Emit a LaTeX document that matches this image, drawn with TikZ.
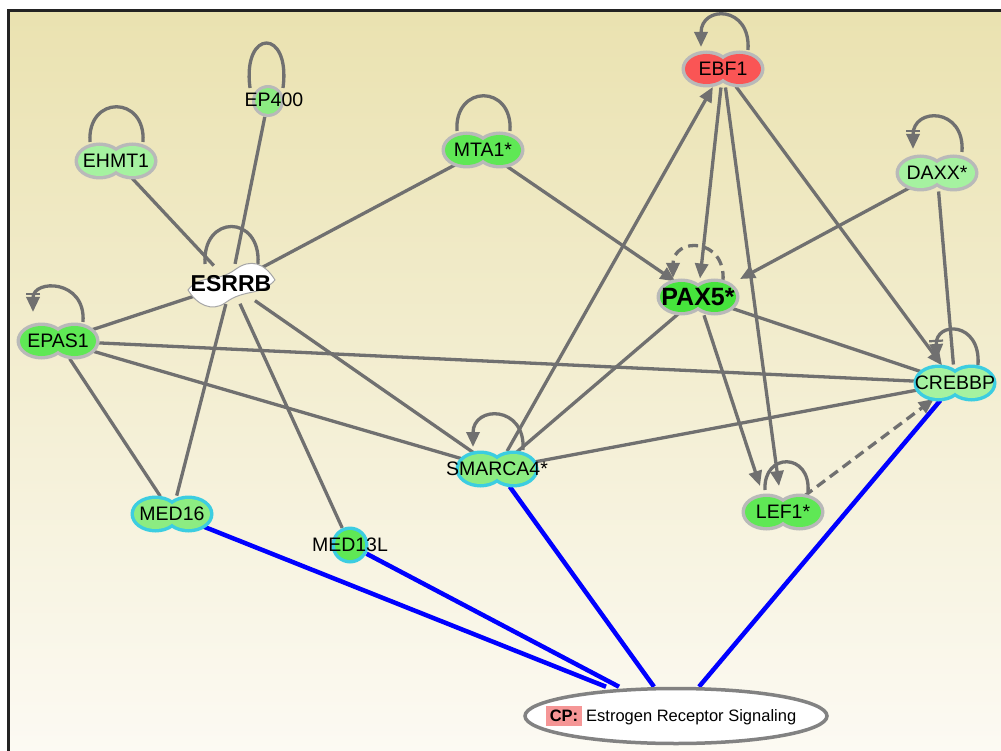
\documentclass[tikz,border=0pt]{standalone}
\usepackage{fontspec}
\setmainfont{Liberation Sans}
\usetikzlibrary{arrows.meta,shapes.geometric}
\definecolor{bgtop}{RGB}{234,226,176}
\definecolor{bgbot}{RGB}{252,250,243}
\definecolor{framec}{RGB}{35,35,35}
\definecolor{egray}{RGB}{112,112,112}
\definecolor{eblue}{RGB}{0,0,255}
\definecolor{bgray}{RGB}{185,185,185}
\definecolor{cyanb}{RGB}{60,205,225}
\definecolor{gA}{RGB}{165,242,160}
\definecolor{gB}{RGB}{140,236,130}
\definecolor{gC}{RGB}{95,232,85}
\definecolor{gD}{RGB}{70,228,60}
\definecolor{redA}{RGB}{250,85,85}
\definecolor{cppink}{RGB}{245,150,150}
\definecolor{cpgray}{RGB}{130,130,130}
\pgfdeclarelayer{bg}
\pgfdeclarelayer{edges}
\pgfsetlayers{bg,edges,main}
\newcommand\nf{\fontsize{19.5}{19.5}\selectfont}
\newcommand\bnf{\bfseries\fontsize{23}{23}\selectfont}
\newcommand\dumbbell[4]{%
  \fill[#4] ({#1-16.5},#2) ellipse[x radius=25,y radius=18.5] ({#1+16.5},#2) ellipse[x radius=25,y radius=18.5];
  \fill[#3] ({#1-16.5},#2) ellipse[x radius=21.5,y radius=15] ({#1+16.5},#2) ellipse[x radius=21.5,y radius=15];}
\newcommand\gnode[6]{\dumbbell{#2}{#3}{#4}{#5}\node[gene] (#1) at (#2,#3) {\makebox[0pt]{#6}};}
\begin{document}
\begin{tikzpicture}[x=1pt,y=-1pt,
  gene/.style={ellipse,minimum width=83pt,minimum height=37pt,inner sep=0pt,outer sep=0pt,font=\nf},
  edge/.style={draw=egray,line width=3.3pt},
  arr/.style={-{Triangle[length=15pt,width=13pt]}},
  barr/.style={-{Bar[width=14pt,line width=2.2pt,sep=2pt] Triangle[length=15pt,width=13pt]}},
  blueedge/.style={draw=eblue,line width=4.5pt},
  dashedge/.style={dash pattern=on 10pt off 6pt}]
\useasboundingbox (0,0) rectangle (1001,751);
\begin{pgfonlayer}{bg}
  \fill[white] (0,0) rectangle (1001,751);
  \shade[top color=bgtop,bottom color=bgbot] (8,10) rectangle (1001,751);
  \draw[line width=3pt,draw=framec] (8.5,751) -- (8.5,10.5) -- (1001,10.5);
\end{pgfonlayer}
% nodes
\gnode{EHMT1}{116}{161}{gA}{bgray}{EHMT1}
\gnode{MTA1}{483}{150}{gC}{bgray}{MTA1*}
\gnode{EBF1}{723}{69}{redA}{bgray}{EBF1}
\gnode{DAXX}{937}{173}{gA}{bgray}{DAXX*}
\gnode{PAX5}{698}{297}{gD}{bgray}{\bfseries\fontsize{25}{25}\selectfont PAX5*}
\gnode{EPAS1}{58}{341}{gC}{bgray}{EPAS1}
\gnode{CREBBP}{955}{383}{gA}{cyanb}{CREBBP}
\gnode{SMARCA4}{497}{469}{gB}{cyanb}{SMARCA4*}
\gnode{LEF1}{783}{512}{gC}{bgray}{LEF1*}
\gnode{MED16}{172}{514}{gB}{cyanb}{MED16}
% EP400 circle
\fill[bgray] (268,101) circle[radius=16];
\fill[gB] (268,101) circle[radius=13];
\node[circle,minimum size=32pt,inner sep=0pt,font=\nf] (EP400) at (268,101) {\makebox[0pt]{\hspace*{12pt}\raisebox{3pt}{EP400}}};
% MED13L circle
\fill[cyanb] (350,545) circle[radius=18.5];
\fill[gC] (350,545) circle[radius=15];
\node[circle,minimum size=37pt,inner sep=0pt,font=\nf] (MED13L) at (350,545) {\makebox[0pt]{MED13L}};
% ESRRB
\filldraw[fill=white,draw=gray!70,line width=1pt] (188,290) .. controls (201,273) and (216,284) .. (236,269) .. controls (250,259) and (264,262) .. (275,280) .. controls (260,297) and (245,288) .. (225,303) .. controls (212,312) and (197,305) .. (188,290) -- cycle;
\node[ellipse,minimum width=84pt,minimum height=40pt,inner sep=0pt,font=\bnf] (ESRRB) at (231,284) {\makebox[0pt]{ESRRB}};
% CP
\node[ellipse,draw=cpgray,line width=3.5pt,fill=white,minimum width=302pt,minimum height=55pt,inner sep=0pt] (CP) at (676,716)
  {\makebox[0pt]{\hspace*{-10pt}\fontsize{16.5}{16.5}\selectfont\setlength{\fboxsep}{4pt}\colorbox{cppink}{\textbf{CP:}}\hspace{4pt}Estrogen Receptor Signaling}};
\coordinate (cp1) at ([xshift=-70pt]CP.north);
\coordinate (cp2) at ([xshift=-57pt]CP.north);
\coordinate (cp3) at ([xshift=-22pt]CP.north);
\coordinate (cp4) at ([xshift=23pt]CP.north);
\coordinate (lefA) at (760,486);
\coordinate (lefB) at (779,486);
\coordinate (paxR) at (740,279);
\begin{pgfonlayer}{edges}
  \draw[edge] (EHMT1) -- (ESRRB);
  \draw[edge] (EP400) -- (ESRRB);
  \draw[edge] (MTA1) -- (ESRRB);
  \draw[edge,arr] (MTA1) -- (PAX5);
  \draw[edge] (ESRRB) -- (EPAS1);
  \draw[edge] (ESRRB) -- (MED16);
  \draw[edge] (ESRRB) -- (MED13L);
  \draw[edge] (ESRRB) -- (SMARCA4);
  \draw[edge] (EPAS1) -- (CREBBP);
  \draw[edge] (EPAS1) -- (SMARCA4);
  \draw[edge] (EPAS1) -- (MED16);
  \draw[edge,arr] (SMARCA4) -- (EBF1);
  \draw[edge] (PAX5) -- (SMARCA4);
  \draw[edge] (CREBBP) -- (SMARCA4);
  \draw[edge,arr] (EBF1) -- (PAX5);
  \draw[edge,arr] (EBF1) -- (lefB);
  \draw[edge,arr] (EBF1) -- (CREBBP);
  \draw[edge,arr] (DAXX) -- (paxR);
  \draw[edge] (DAXX) -- (CREBBP);
  \draw[edge] (PAX5) -- (CREBBP);
  \draw[edge,arr] (PAX5) -- (lefA);
  \draw[edge,arr,dashedge] (LEF1) -- (CREBBP);
  % self loops
  \draw[edge] ([shift={(27,-19)}]EHMT1.center) .. controls ([shift={(30,-66)}]EHMT1.center) and ([shift={(-29,-66)}]EHMT1.center) .. ([shift={(-26,-19)}]EHMT1.center);
  \draw[edge] ([shift={(27,-19)}]MTA1.center) .. controls ([shift={(30,-66)}]MTA1.center) and ([shift={(-29,-66)}]MTA1.center) .. ([shift={(-26,-19)}]MTA1.center);
  \draw[edge] ([shift={(27,-20)}]ESRRB.center) .. controls ([shift={(30,-70)}]ESRRB.center) and ([shift={(-29,-70)}]ESRRB.center) .. ([shift={(-26,-20)}]ESRRB.center);
  \draw[edge] ([shift={(15,-13)}]EP400.center) .. controls ([shift={(23,-73)}]EP400.center) and ([shift={(-26,-73)}]EP400.center) .. ([shift={(-18,-13)}]EP400.center);
  \draw[edge,arr] ([shift={(25,-19)}]EBF1.center) .. controls ([shift={(28,-64)}]EBF1.center) and ([shift={(-22,-64)}]EBF1.center) .. ([shift={(-22,-22)}]EBF1.center);
  \draw[edge,barr] ([shift={(25,-21)}]DAXX.center) .. controls ([shift={(28,-66)}]DAXX.center) and ([shift={(-24,-66)}]DAXX.center) .. ([shift={(-24,-24)}]DAXX.center);
  \draw[edge,arr,dashedge] ([shift={(25,-16)}]PAX5.center) .. controls ([shift={(28,-60)}]PAX5.center) and ([shift={(-25,-60)}]PAX5.center) .. ([shift={(-25,-19)}]PAX5.center);
  \draw[edge,barr] ([shift={(25,-19)}]EPAS1.center) .. controls ([shift={(28,-62)}]EPAS1.center) and ([shift={(-25,-62)}]EPAS1.center) .. ([shift={(-25,-29)}]EPAS1.center);
  \draw[edge,barr] ([shift={(23,-18)}]CREBBP.center) .. controls ([shift={(26,-62)}]CREBBP.center) and ([shift={(-20,-62)}]CREBBP.center) .. ([shift={(-18,-24)}]CREBBP.center);
  \draw[edge,arr] ([shift={(26,-19)}]SMARCA4.center) .. controls ([shift={(29,-64)}]SMARCA4.center) and ([shift={(-24,-64)}]SMARCA4.center) .. ([shift={(-24,-22)}]SMARCA4.center);
  \draw[edge] ([shift={(25,-20)}]LEF1.center) .. controls ([shift={(28,-60)}]LEF1.center) and ([shift={(-20,-60)}]LEF1.center) .. ([shift={(-18,-22)}]LEF1.center);
  % blue
  \draw[blueedge] (MED16) -- (cp1);
  \draw[blueedge] (MED13L) -- (cp2);
  \draw[blueedge] (SMARCA4) -- (cp3);
  \draw[blueedge] (CREBBP) -- (cp4);
\end{pgfonlayer}
\end{tikzpicture}
\end{document}
